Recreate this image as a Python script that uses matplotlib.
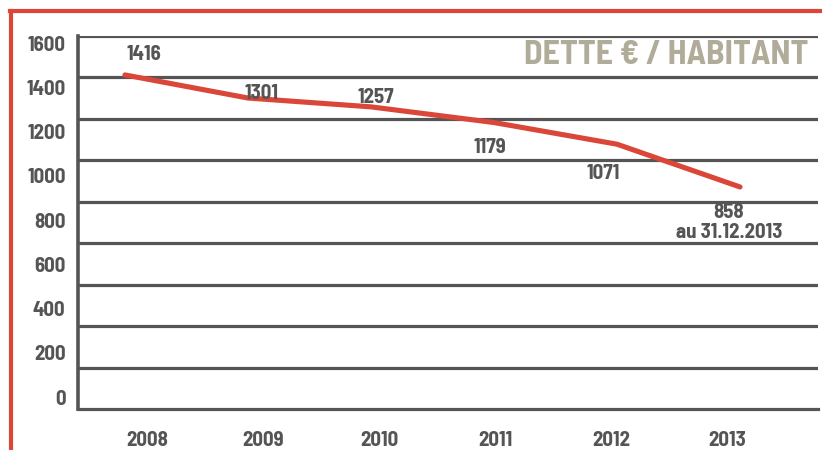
import numpy as np
import matplotlib
matplotlib.use("Agg")
import matplotlib.pyplot as plt
from matplotlib.lines import Line2D

# data
years = ["2008", "2009", "2010", "2011", "2012", "2013"]
dette = [1416, 1301, 1257, 1179, 1071, 858]
ytick_labels = ["0", "200", "400", "600", "800", "1000", "1200", "1400", "1600"]
note_2013 = "au 31.12.2013"
title = "DETTE € / HABITANT"

# label offsets in pixels (dx, dy) relative to each point
offsets = [(19, 20), (14, 5), (5, 9), (-4, -25), (-14, -29), (-11, -26)]

plt.rcParams["font.family"] = ["Barlow Semi Condensed", "DejaVu Sans"]
plt.rcParams["font.weight"] = "bold"

grey = "#555555"
red = "#da4738"
fs = 15

fig = plt.figure(figsize=(8.22, 4.5), dpi=100)
ax = fig.add_axes([78 / 822, 41 / 450, 740 / 822, 373 / 450])

ylo, yhi = -248, 1610
ax.set_ylim(ylo, yhi)
x = np.arange(len(years))
ax.set_xlim(-0.382, 5.634)

# horizontal rules (10 of them, the bottom one is the spine)
for g in np.linspace(ylo, yhi, 10)[1:]:
    ax.axhline(g, color=grey, lw=2.3, zorder=1)

ax.plot(x, dette, color=red, lw=3.7, solid_capstyle="round", zorder=3)

for xi, v, (dx, dy) in zip(x, dette, offsets):
    ax.annotate(str(v), (xi, v), xytext=(dx, dy), textcoords="offset pixels",
                ha="center", va="center", fontsize=fs, color=grey)
ax.annotate(note_2013, (x[-1], dette[-1]), xytext=(-11, -46),
            textcoords="offset pixels", ha="center", va="center",
            fontsize=fs, color=grey)

# tick labels
ax.set_yticks(np.linspace(ylo + 0.032 * (yhi - ylo), ylo + 0.981 * (yhi - ylo), 9))
ax.set_yticklabels(ytick_labels)
ax.set_xticks([(147 + 116 * i - 125) / 123 for i in range(len(years))])
ax.set_xticklabels(years)
ax.tick_params(axis="y", length=0, pad=9, labelsize=fs, labelcolor=grey)
ax.tick_params(axis="x", length=0, pad=16, labelsize=fs, labelcolor=grey)

for s in ["top", "right"]:
    ax.spines[s].set_visible(False)
ax.spines["left"].set_color(grey)
ax.spines["left"].set_linewidth(2.6)
ax.spines["bottom"].set_color(grey)
ax.spines["bottom"].set_linewidth(2.3)

# title
fig.text(808 / 822, 1 - 55 / 450, title, ha="right", va="center",
         fontsize=24.5, color="#b1ac99")

# red frame
fig.add_artist(Line2D([10 / 822, 1], [1 - 11 / 450, 1 - 11 / 450],
                      transform=fig.transFigure, color=red, lw=3))
fig.add_artist(Line2D([11 / 822, 11 / 822], [0, 1 - 11 / 450],
                      transform=fig.transFigure, color=red, lw=3))

fig.savefig("out.png", dpi=100)
